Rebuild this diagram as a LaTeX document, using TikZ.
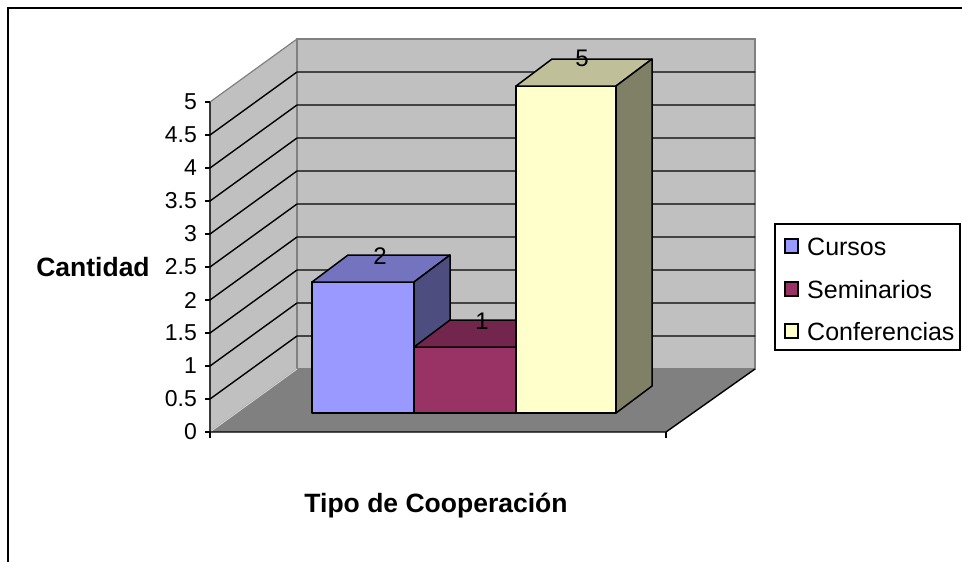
\documentclass[tikz,border=0pt]{standalone}
\usepackage{fontspec}
\setmainfont{Liberation Sans}
\definecolor{wallgray}{HTML}{C0C0C0}
\definecolor{floorgray}{HTML}{808080}
\definecolor{cursosfront}{HTML}{9999FF}
\definecolor{cursostop}{HTML}{7373BF}
\definecolor{cursosside}{HTML}{4D4D80}
\definecolor{semfront}{HTML}{993366}
\definecolor{semtop}{HTML}{73264D}
\definecolor{conffront}{HTML}{FFFFCC}
\definecolor{conftop}{HTML}{BFBF99}
\definecolor{confside}{HTML}{808066}
\tikzset{
  wall/.style={fill=wallgray,draw=floorgray,line width=1.2pt},
  barface/.style={draw=black,line width=1.5pt,line join=round},
  ticklabel/.style={anchor=east,inner sep=0pt,font=\fontsize{23}{23}\selectfont},
  valuelabel/.style={inner sep=0pt,font=\fontsize{24}{24}\selectfont},
  legendlabel/.style={anchor=base west,inner sep=0pt,font=\fontsize{25}{25}\selectfont},
  axistitle/.style={anchor=base,inner sep=0pt,font=\fontsize{26.5}{26.5}\selectfont\bfseries}
}
\begin{document}
\begin{tikzpicture}[x=1pt,y=-1pt]
\useasboundingbox (0,0) rectangle (962,562);
\draw[line width=2pt] (8,562) -- (8,8) -- (962,8);

% walls and floor
\filldraw[wall] (210,432) -- (210,102) -- (297,39) -- (297,369) -- cycle;
\filldraw[wall] (297,39) rectangle (755,369);
\fill[floorgray] (210,432) -- (297,369) -- (755,369) -- (666,432) -- cycle;
\draw[wallgray!70!white,line width=1pt] (210,432) -- (297,369);
\foreach \v in {0.5,1,...,4.5} {
  \draw[line width=1.4pt] (210,432-66*\v) -- (297,369-66*\v) -- (755,369-66*\v);
}

% bars
\filldraw[barface,fill=cursosfront] (312,413) rectangle (414,282);
\filldraw[barface,fill=cursostop] (312,282) -- (348,255) -- (450,255) -- (414,282) -- cycle;
\filldraw[barface,fill=cursosside] (414,413) -- (414,282) -- (450,255) -- (450,386) -- cycle;
\filldraw[barface,fill=semfront] (414,413) rectangle (516,347);
\filldraw[barface,fill=semtop] (414,347) -- (450,320) -- (552,320) -- (516,347) -- cycle;
\filldraw[barface,fill=conffront] (516,413) rectangle (616,86);
\filldraw[barface,fill=conftop] (516,86) -- (552,59) -- (652,59) -- (616,86) -- cycle;
\filldraw[barface,fill=confside] (616,413) -- (616,86) -- (652,59) -- (652,386) -- cycle;

\node[valuelabel] (valcursos) at (380,256) {2};
\node[valuelabel] (valsem) at (482,321) {1};
\node[valuelabel] (valconf) at (582,58) {5};

% axes
\draw[line width=1.4pt] (210,102) -- (210,432) -- (666,432) -- (755,369);
\draw[line width=1.4pt] (210,432) -- (210,438);
\draw[line width=1.4pt] (666,432) -- (666,438);
\foreach \v [count=\i] in {0,0.5,1,1.5,2,2.5,3,3.5,4,4.5,5} {
  \draw[line width=1.4pt] (205,432-66*\v) -- (210,432-66*\v);
  \node[ticklabel] (tick\i) at (197,432-66*\v) {\v};
}

\node[axistitle] (ytitle) at (93,276) {Cantidad};
\node[axistitle] (xtitle) at (436,512) {Tipo de Cooperación};

% legend
\draw[line width=1.4pt] (775,224) rectangle (960,350);
\filldraw[draw=black,line width=1.2pt,fill=cursosfront] (785,239) rectangle (798,253);
\filldraw[draw=black,line width=1.2pt,fill=semfront] (785,282) rectangle (798,296);
\filldraw[draw=black,line width=1.2pt,fill=conffront] (785,324) rectangle (798,338);
\node[legendlabel] (legcursos) at (807,255) {Cursos};
\node[legendlabel] (legsem) at (807,298) {Seminarios};
\node[legendlabel] (legconf) at (807,340) {Conferencias};
\end{tikzpicture}
\end{document}
